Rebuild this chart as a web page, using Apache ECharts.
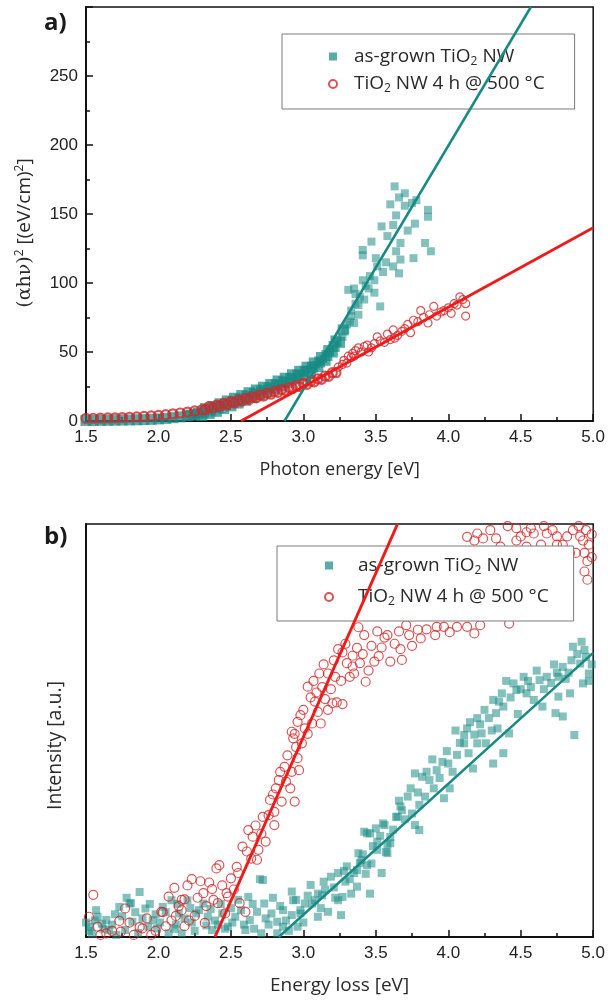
<!DOCTYPE html>
<html>
<head>
<meta charset="utf-8">
<script src="https://cdn.jsdelivr.net/npm/echarts@6/dist/echarts.min.js"></script>
<style>
html,body{margin:0;padding:0;background:#fff;}
#chart{width:608px;height:1001px;}
</style>
</head>
<body>
<div id="chart"></div>
<script>
// ---------- DATA ----------
const seriesNames = ['as-grown TiO2 NW', 'TiO2 NW 4 h @ 500 °C'];
const panelLabels = ['a)', 'b)'];
const xTitleTop = 'Photon energy [eV]';
const xTitleBottom = 'Energy loss [eV]';
const yTitleBottom = 'Intensity [a.u.]';

// Panel a: (alpha h nu)^2 vs photon energy
const topTealDense = [
  [1.50,0.4],[1.55,0.4],[1.60,0.5],[1.65,0.5],[1.70,0.6],[1.75,0.7],[1.80,0.8],[1.85,0.9],[1.90,1.0],[1.95,1.2],
  [2.00,1.5],[2.05,1.9],[2.10,2.4],[2.15,3.0],[2.20,3.8],[2.225,4.3],[2.25,4.9],[2.275,5.5],
  [2.300,4.0],[2.325,9.0],[2.350,5.5],[2.375,10.5],[2.400,7.0],[2.425,12.5],[2.450,9.0],[2.475,14.5],
  [2.500,11.0],[2.525,16.5],[2.550,13.0],[2.575,18.5],[2.600,15.0],[2.625,20.5],[2.650,17.0],[2.675,22.5],
  [2.700,19.0],[2.725,24.5],[2.750,21.0],[2.775,26.5],[2.800,23.5],[2.825,29.0],[2.850,25.5],[2.875,31.0],
  [2.900,28.0],[2.925,33.5],[2.950,30.5],[2.975,36.0],[3.000,33.0],[3.025,39.0],[3.050,36.0],[3.075,42.0],
  [3.100,39.5],[3.125,46.0],[3.150,44.0],[3.175,51.0],[3.200,50.0],[3.225,58.0],[3.250,57.0],[3.275,66.0],
  [2.3125,6.5],[2.3625,8.0],[2.4125,9.8],[2.4625,11.8],[2.5125,13.8],[2.5625,15.8],[2.6125,17.8],[2.6625,19.8],
  [2.7125,21.8],[2.7625,23.8],[2.8125,26.2],[2.8625,28.3],[2.9125,30.8],[2.9625,33.2],[3.0125,36.0],[3.0625,39.0],
  [3.1125,42.8],[3.1625,47.5],[3.2125,54.0]
];
const topTealScatter = [
  [3.27,61],[3.29,66],[3.30,70],[3.31,95],[3.32,72],[3.33,76],[3.33,80],[3.35,71],[3.35,96],[3.36,85],[3.36,92],
  [3.38,77],[3.38,84],[3.39,90],[3.41,102],[3.41,120],[3.41,124],[3.42,88],[3.43,98],[3.45,96],[3.46,105],
  [3.47,130],[3.49,93],[3.49,102],[3.50,118],[3.51,112],[3.53,83],[3.54,141],[3.55,108],[3.57,115],[3.58,134],
  [3.60,157],[3.62,112],[3.62,142],[3.63,170],[3.64,123],[3.64,149],[3.66,107],[3.66,162],[3.67,117],[3.67,129],
  [3.70,156],[3.70,165],[3.72,138],[3.75,158],[3.76,118],[3.77,143],[3.78,160],[3.84,129],[3.86,148],[3.86,153],[3.88,123]
];
const topRedDense = [
  [1.50,2.0],[1.55,2.0],[1.60,2.1],[1.65,2.2],[1.70,2.3],[1.75,2.5],[1.80,2.7],[1.85,3.0],[1.90,3.3],[1.95,3.7],
  [2.00,4.1],[2.05,4.6],[2.10,5.2],[2.15,5.8],[2.20,6.5],[2.25,7.3],[2.30,8.1],
  [2.325,8.5],[2.35,10.5],[2.375,9.5],[2.40,11.5],[2.425,10.8],[2.45,12.8],[2.475,12.0],[2.50,14.0],
  [2.525,13.2],[2.55,15.2],[2.575,14.4],[2.60,16.4],[2.625,15.6],[2.65,17.6],[2.675,16.8],[2.70,18.8],
  [2.725,18.0],[2.75,20.0],[2.775,19.4],[2.80,21.4],[2.825,20.8],[2.85,22.8],[2.875,22.2],[2.90,24.2],
  [2.925,23.6],[2.95,25.6],[2.975,25.0],[3.00,27.2],[3.025,26.6],[3.05,28.8],[3.075,28.4],[3.10,30.6],
  [3.125,30.2],[3.15,32.6],[3.175,32.4],[3.20,35.0],[3.225,35.0]
];
const topRedScatter = [
  [3.24,39],[3.27,41],[3.28,44],[3.30,42],[3.31,47],[3.33,46],[3.34,49],[3.35,47],[3.36,51],[3.38,53],
  [3.40,50],[3.42,54],[3.44,55],[3.45,50],[3.47,53],[3.49,56],[3.51,61],[3.53,58],[3.56,57],[3.58,63],
  [3.60,59],[3.62,66],[3.63,60],[3.65,62],[3.68,65],[3.70,67],[3.72,70],[3.74,64],[3.76,73],[3.79,72],
  [3.81,80],[3.83,75],[3.86,71],[3.87,77],[3.90,83],[3.92,76],[3.95,79],[3.97,80],[4.00,82],[4.02,78],
  [4.04,85],[4.06,84],[4.08,90],[4.10,88],[4.12,85],[4.12,76]
];
const topTealFit = [[2.87,0],[4.57,300]];
const topRedFit = [[2.57,0],[5.0,140]];

// Panel b: EELS intensity (arbitrary units, 0-100)
const bottomTeal = [
  [1.52,1.5],[1.53,2.5],[1.56,4.0],[1.58,4.9],[1.62,2.0],[1.64,4.1],[1.66,1.7],[1.70,5.5],[1.73,7.3],[1.77,1.7],
  [1.80,8.1],[1.81,8.2],[1.82,3.7],[1.87,10.9],[1.91,6.9],[1.93,2.5],[1.96,4.1],[1.99,2.1],[2.03,7.3],[2.07,0.9],
  [2.09,8.9],[2.12,3.0],[2.14,5.7],[2.16,0.9],[2.20,8.9],[2.23,3.5],[2.26,5.7],[2.31,8.1],[2.34,4.9],[2.37,1.7],
  [2.41,3.0],[2.44,5.7],[2.48,2.5],[2.53,4.9],[2.57,6.5],[2.60,1.7],[2.62,9.7],[2.63,4.1],[2.68,6.1],[2.70,14.0],
  [2.71,0.9],[2.72,13.8],[2.73,8.1],[2.76,3.0],[2.78,5.7],[2.82,3.7],[2.82,0.9],[2.86,2.5],[2.86,6.5],[2.90,1.5],
  [2.92,5.3],[2.92,11.0],[2.93,8.9],[2.96,2.5],[2.98,5.7],[2.98,6.5],[3.01,8.1],[3.05,12.6],[3.06,8.1],[3.08,8.9],
  [3.10,4.9],[3.10,10.5],[3.13,10.1],[3.14,13.4],[3.17,6.1],[3.19,14.6],[3.24,8.9],[3.24,15.5],[3.26,5.3],[3.27,9.7],
  [3.29,13.4],[3.30,17.1],[3.33,10.5],[3.35,15.5],[3.37,12.2],[3.37,16.2],[3.38,20.3],[3.39,17.9],[3.40,18.6],[3.42,25.5],
  [3.43,15.3],[3.44,17.4],[3.44,25.1],[3.46,10.5],[3.46,25.1],[3.47,17.8],[3.50,26.3],[3.51,21.1],[3.51,23.1],[3.54,15.5],
  [3.55,27.5],[3.56,27.1],[3.57,20.6],[3.58,20.3],[3.58,22.3],[3.60,22.7],[3.60,24.2],[3.64,29.1],[3.65,29.1],[3.67,31.6],
  [3.68,30.7],[3.72,34.0],[3.75,29.9],[3.77,27.1],[3.77,39.6],[3.80,25.9],[3.80,32.0],[3.82,38.8],[3.87,38.0],[3.90,36.0],
  [3.92,40.4],[3.96,42.4],[3.97,33.6],[4.00,42.0],[4.01,36.0],[4.05,50.0],[4.06,44.1],[4.11,46.9],[4.11,48.9],[4.14,44.5],
  [4.15,52.0],[4.17,40.8],[4.20,46.9],[4.20,53.0],[4.23,49.3],[4.25,55.0],[4.26,46.9],[4.30,50.0],[4.31,42.0],[4.31,57.4],
  [4.33,54.2],[4.35,57.0],[4.38,44.5],[4.38,55.8],[4.40,62.0],[4.42,49.3],[4.45,61.4],[4.47,59.8],[4.50,60.0],[4.54,59.0],
  [4.55,62.0],[4.59,57.4],[4.63,62.2],[4.65,55.8],[4.68,63.0],[4.74,54.2],[4.75,64.0],[4.76,58.2],[4.76,63.0],[4.79,53.4],
  [4.79,65.4],[4.84,59.0],[4.85,67.0],[4.86,70.3],[4.87,48.9],[4.91,66.2],[4.93,61.4],[4.94,69.5],[4.95,67.8],[4.97,62.0],[4.97,63.8],
  [1.50,3.5],[1.54,0.8],[1.57,6.5],[1.61,3.2],[1.68,3.0],[1.71,0.5],[1.75,5.0],[1.78,9.5],[1.84,6.0],[1.86,1.0],
  [1.89,4.5],[1.94,8.0],[1.98,5.5],[2.01,3.5],[2.05,6.0],[2.11,2.0],[2.13,8.0],[2.18,4.5],[2.22,7.0],[2.25,1.5],
  [2.28,6.5],[2.33,2.8],[2.36,6.8],[2.39,4.0],[2.43,8.0],[2.46,2.0],[2.50,7.0],[2.51,3.5],[2.55,9.0],[2.59,3.0],
  [2.65,8.0],[2.66,2.0],[2.74,4.5],[2.79,9.5],[2.84,7.5],[2.88,4.0],[2.95,9.0],[3.00,3.5],[3.03,10.0],[3.12,7.0],
  [3.15,11.5],[3.21,12.0],[3.22,9.5],[3.28,16.0],[3.32,14.0],[3.41,20.0],[3.48,22.0],[3.53,24.5],[3.62,26.0],[3.66,33.0],
  [3.70,28.5],[3.74,36.0],[3.79,35.0],[3.84,34.0],[3.85,40.0],[3.89,43.0],[3.94,38.5],[3.99,45.0],[4.03,40.0],[4.08,47.0],
  [4.13,50.5],[4.18,49.0],[4.22,51.5],[4.28,53.0],[4.34,50.5],[4.37,59.0],[4.43,58.0],[4.48,54.0],[4.52,63.0],[4.57,60.5],
  [4.61,64.5],[4.66,60.0],[4.71,61.5],[4.73,66.0],[4.81,62.5],[4.83,64.0],[4.89,68.5],[4.92,71.5],[4.99,66.0]
];
const bottomRed = [
  [1.52,4.9],[1.55,10.2],[1.60,0.5],[1.64,0.9],[1.73,3.9],[1.74,1.3],[1.77,6.9],[1.83,0.5],[1.87,2.4],[1.89,2.1],
  [1.95,0.5],[2.02,6.1],[2.03,6.0],[2.05,2.6],[2.07,9.8],[2.11,11.9],[2.12,5.1],[2.16,6.5],[2.16,9.0],[2.18,2.6],
  [2.18,9.1],[2.23,14.0],[2.25,5.1],[2.29,13.5],[2.31,10.6],[2.32,3.4],[2.35,13.2],[2.37,11.6],[2.38,9.0],[2.40,16.6],
  [2.41,8.2],[2.42,17.4],[2.46,5.7],[2.47,10.6],[2.48,9.8],[2.50,14.2],[2.54,17.0],[2.56,8.2],[2.58,21.9],[2.60,6.1],
  [2.61,20.7],[2.62,25.9],[2.65,24.3],[2.68,18.7],[2.69,21.1],[2.72,29.1],[2.74,23.1],[2.77,33.2],[2.80,27.1],[2.80,30.3],
  [2.81,36.0],[2.84,40.0],[2.85,32.8],[2.87,41.2],[2.88,37.6],[2.92,40.0],[2.92,49.7],[2.93,48.1],[2.94,32.8],[2.94,49.2],
  [2.96,43.3],[2.96,52.1],[2.97,40.4],[2.98,53.7],[2.99,46.9],[3.03,49.2],[3.03,60.6],[3.06,51.7],[3.08,57.0],[3.09,59.2],
  [3.11,63.8],[3.12,51.7],[3.15,57.6],[3.17,55.0],[3.17,63.8],[3.20,56.6],[3.22,63.0],[3.23,56.8],[3.24,69.7],[3.27,56.4],
  [3.27,68.9],[3.30,66.3],[3.34,65.5],[3.34,68.1],[3.35,63.8],[3.39,66.3],[3.42,73.1],[3.43,61.8],[3.47,70.5],[3.49,66.7],
  [3.51,74.0],[3.54,70.1],[3.58,73.1],[3.60,66.7],[3.66,74.0],[3.67,69.7],[3.68,67.1],[3.73,73.1],[3.79,74.4],[3.81,72.3],
  [3.91,73.1],[3.92,75.1],[3.97,75.1],[4.06,75.1],[4.13,75.1],[4.18,73.5],[4.42,75.9],
  [3.45,80],[3.55,85],[3.62,82],[3.70,88],[3.80,84],[3.90,90],[4.00,86],[4.10,91],[4.25,87],[4.40,92],[4.55,89],[4.70,90],[4.80,87],
  [4.13,96.9],[4.18,96.0],[4.20,97.7],[4.24,96.5],[4.36,94.5],[4.47,96.0],[4.47,99.0],[4.50,97.0],[4.54,94.5],[4.54,98.0],
  [4.59,97.7],[4.64,95.0],[4.68,97.7],[4.70,93.0],[4.75,95.0],[4.75,97.0],[4.79,95.0],[4.84,93.0],[4.86,98.5],[4.88,93.0],
  [4.91,97.0],[4.93,96.0],[4.94,88.5],[4.94,93.0],[4.95,98.5],[4.96,91.0],[4.97,95.0],
  [4.30,101],[4.62,101.5],[4.80,100.5],[4.98,101],
  [1.58,2.5],[1.68,1.5],[1.80,3.5],[1.92,4.5],[1.98,1.5],[2.09,4.0],[2.14,7.5],[2.20,12.5],[2.21,4.0],[2.27,9.5],
  [2.33,7.5],[2.44,12.5],[2.52,11.5],[2.55,15.5],[2.64,19.0],[2.67,27.0],[2.71,25.0],[2.76,29.5],[2.79,34.5],[2.83,38.0],
  [2.89,44.0],[2.91,36.0],[2.95,46.0],[3.00,55.0],[3.01,50.5],[3.05,58.0],[3.07,62.0],[3.10,54.5],[3.13,60.5],[3.14,66.0],
  [3.19,60.0],[3.21,67.0],[3.26,62.0],[3.29,71.0],[3.32,63.0],[3.37,70.0],[3.38,75.0],[3.41,68.5],[3.45,64.5],[3.52,68.0],
  [3.56,72.5],[3.63,71.0],[3.71,75.5],[3.75,70.5],[3.85,74.5],[4.01,73.8],[4.22,75.5],[4.29,98.5],[4.33,96.5],[4.41,99.5],
  [4.57,99.0],[4.66,99.5],[4.72,98.5],[4.82,97.0],[4.90,99.5],[4.99,97.5],[4.99,92.0],[4.96,86.5]
];
const bottomTealFit = [[2.83,0],[5.0,68.8]];
const bottomRedFit = [[2.39,0],[3.65,100]];

// ---------- STYLE ----------
const TEAL_FILL = 'rgba(28,140,133,0.68)';
const TEAL_DENSE = 'rgba(24,138,131,0.9)';
const TEAL_LINE = '#188a84';
const RED_STROKE = '#d3282b';
const RED_LINE = '#ee1b1b';
const TICK_FONT = 'Liberation Sans';
const TEXT_FONT = 'Open Sans';
const TEXT_COLOR = '#2a2a2a';

const legendRich = {
  a: {fontFamily: TEXT_FONT, fontSize: 19, color: TEXT_COLOR, lineHeight: 22},
  s: {fontFamily: TEXT_FONT, fontSize: 12, color: TEXT_COLOR, lineHeight: 8, verticalAlign: 'bottom'}
};
function legendFormatter(n) {
  return n === seriesNames[0] ? '{a|as-grown TiO}{s|2}{a| NW}' : '{a|TiO}{s|2}{a| NW 4 h @ 500 °C}';
}
function makeLegend(left, top, padding, itemGap, textPad) {
  return {
    orient: 'vertical', left: left, top: top, padding: padding, itemGap: itemGap,
    itemWidth: 8, itemHeight: 8,
    backgroundColor: '#fff', borderColor: '#7a7a7a', borderWidth: 1, borderRadius: 0,
    data: [{name: seriesNames[0], icon: 'rect'}, {name: seriesNames[1], icon: 'circle'}],
    formatter: legendFormatter,
    textStyle: {rich: legendRich, padding: [0, 0, 0, textPad]},
    selectedMode: false
  };
}
function xAxisDef(gridIndex, title, titleSize) {
  return {
    type: 'value', gridIndex: gridIndex, min: 1.5, max: 5.0, interval: 0.5,
    name: title, nameLocation: 'middle', nameGap: 38,
    nameTextStyle: {fontFamily: TEXT_FONT, fontSize: titleSize, color: TEXT_COLOR, lineHeight: 22},
    axisLine: {show: true, lineStyle: {color: '#111', width: 2}},
    axisTick: {show: true, inside: true, length: 7, lineStyle: {color: '#111', width: 1.5}},
    minorTick: {show: true, splitNumber: 2, length: 4, lineStyle: {color: '#111', width: 1.5}},
    axisLabel: {fontFamily: TICK_FONT, fontSize: 17, color: '#222', margin: 8, formatter: v => v.toFixed(1)},
    splitLine: {show: false}
  };
}
function scatterSeries(name, xi, data, isTeal, size, dense) {
  return {
    name: name, type: 'scatter', xAxisIndex: xi, yAxisIndex: xi, data: data,
    symbol: isTeal ? 'rect' : 'circle', symbolSize: size,
    itemStyle: isTeal ? {color: dense ? TEAL_DENSE : TEAL_FILL}
                      : {color: 'rgba(255,255,255,0)', borderColor: RED_STROKE, borderWidth: dense ? 2.2 : 1.2},
    clip: true, silent: true, z: isTeal ? 2 : 3
  };
}
function fitSeries(xi, data, color, width) {
  return {
    type: 'line', xAxisIndex: xi, yAxisIndex: xi, data: data, symbol: 'none',
    lineStyle: {color: color, width: width}, clip: true, silent: true, z: 5
  };
}

const chart = echarts.init(document.getElementById('chart'), null, {renderer: 'canvas'});
chart.setOption({
  animation: false,
  backgroundColor: '#fff',
  title: [
    {text: panelLabels[0], left: 39, top: 6, textStyle: {fontFamily: TEXT_FONT, fontWeight: 'bold', fontSize: 24, color: '#1a1a1a'}},
    {text: panelLabels[1], left: 39, top: 520, textStyle: {fontFamily: TEXT_FONT, fontWeight: 'bold', fontSize: 24, color: '#1a1a1a'}}
  ],
  grid: [
    {left: 86, right: 13, top: 7, height: 414, show: true, borderColor: '#111', borderWidth: 1.5, backgroundColor: 'transparent'},
    {left: 86, right: 13, top: 524, height: 413, show: true, borderColor: '#111', borderWidth: 1.5, backgroundColor: 'transparent'}
  ],
  legend: [
    makeLegend(282, 34, [13, 30, 14, 46], 7, 12),
    makeLegend(277, 546, [10, 25, 13, 47], 11, 20)
  ],
  xAxis: [xAxisDef(0, xTitleTop, 18), xAxisDef(1, xTitleBottom, 19)],
  yAxis: [
    {
      type: 'value', gridIndex: 0, min: 0, max: 300, interval: 50,
      name: '{m|(αhν)}{sup|2}{t| [(eV/cm)}{sup|2}{t|]}', nameLocation: 'middle', nameGap: 50, nameRotate: 90,
      nameTextStyle: {padding: [0, 38, 0, 0], rich: {
        m: {fontFamily: 'DejaVu Serif', fontSize: 19, color: TEXT_COLOR, lineHeight: 22},
        t: {fontFamily: TEXT_FONT, fontSize: 19, color: TEXT_COLOR, lineHeight: 22},
        sup: {fontFamily: TEXT_FONT, fontSize: 12, color: TEXT_COLOR, lineHeight: 10, verticalAlign: 'top'}
      }},
      axisLine: {show: true, lineStyle: {color: '#111', width: 2}},
      axisTick: {show: true, inside: true, length: 7, lineStyle: {color: '#111', width: 1.5}},
      minorTick: {show: true, splitNumber: 2, length: 4, lineStyle: {color: '#111', width: 1.5}},
      axisLabel: {fontFamily: TICK_FONT, fontSize: 17, color: '#222', margin: 8, showMaxLabel: false},
      splitLine: {show: false}
    },
    {
      type: 'value', gridIndex: 1, min: 0, max: 100,
      name: yTitleBottom, nameLocation: 'middle', nameGap: 20, nameRotate: 90,
      nameTextStyle: {fontFamily: TEXT_FONT, fontSize: 19.5, color: TEXT_COLOR, lineHeight: 22, padding: [0, 30, 0, 0]},
      axisLine: {show: true, lineStyle: {color: '#111', width: 2}},
      axisTick: {show: false}, axisLabel: {show: false}, splitLine: {show: false}
    }
  ],
  series: [
    scatterSeries(seriesNames[0], 0, topTealDense, true, 11, true),
    scatterSeries(seriesNames[0], 0, topTealScatter, true, 8, false),
    scatterSeries(seriesNames[1], 0, topRedDense, false, 9, true),
    scatterSeries(seriesNames[1], 0, topRedScatter, false, 8, false),
    fitSeries(0, topTealFit, TEAL_LINE, 2.5),
    fitSeries(0, topRedFit, RED_LINE, 2.8),
    scatterSeries(seriesNames[0], 1, bottomTeal, true, 8, false),
    scatterSeries(seriesNames[1], 1, bottomRed, false, 9, false),
    fitSeries(1, bottomTealFit, TEAL_LINE, 2.5),
    fitSeries(1, bottomRedFit, RED_LINE, 3)
  ]
});
</script>
</body>
</html>
